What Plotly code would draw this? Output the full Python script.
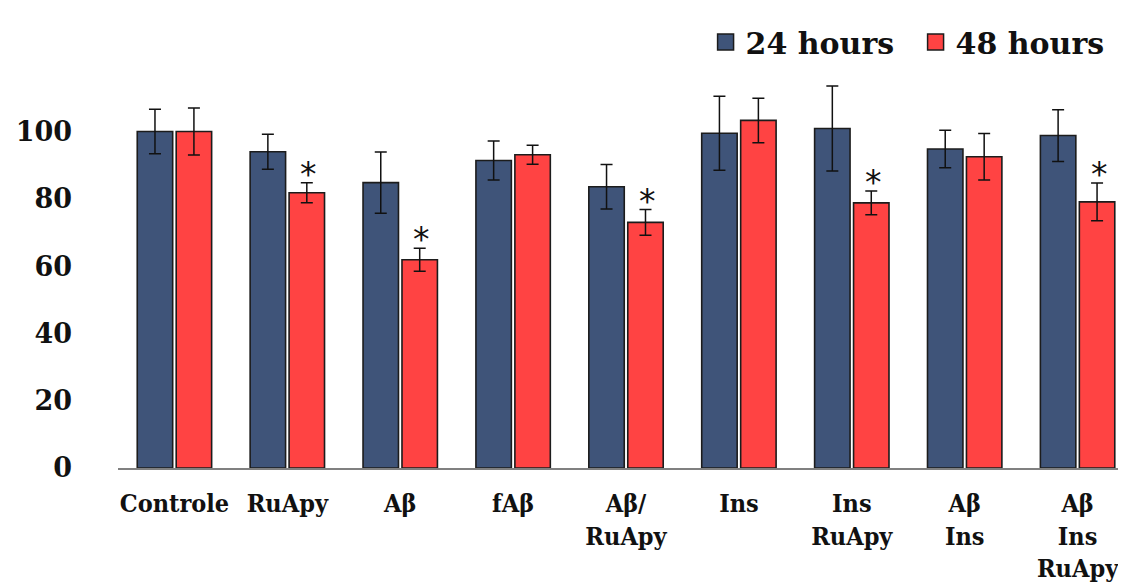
import plotly.graph_objects as go

categories = ["Controle", "RuApy", "Aβ", "fAβ", "Aβ/<br>RuApy", "Ins", "Ins<br>RuApy", "Aβ<br>Ins", "Aβ<br>Ins<br>RuApy"]
h24 = [100.0, 94.0, 84.8, 91.4, 83.6, 99.5, 100.9, 94.8, 98.8]
h24_err = [6.6, 5.2, 9.1, 5.8, 6.6, 11.0, 12.6, 5.6, 7.7]
h48 = [100.0, 81.8, 61.9, 93.1, 73.0, 103.3, 78.8, 92.5, 79.1]
h48_err = [7.0, 3.0, 3.4, 2.8, 3.8, 6.6, 3.5, 6.9, 5.6]
h48_sig = [False, True, True, False, True, False, True, False, True]
y_ticks = [0, 20, 40, 60, 80, 100]
series_names = ["24 hours", "48 hours"]

NAVY = "#3F5479"
RED = "#FF4343"
EDGE = "#1c1c1c"
SERIF = "DejaVu Serif"
SERIF_C = "DejaVu Serif Condensed, DejaVu Serif"

x = list(range(len(categories)))

fig = go.Figure()
for vals, errs, col in [(h24, h24_err, NAVY), (h48, h48_err, RED)]:
    fig.add_trace(go.Bar(
        x=x, y=vals,
        marker=dict(color=col, line=dict(color=EDGE, width=1.6)),
        error_y=dict(type="data", array=errs, color="#111111", thickness=1.5, width=6),
        showlegend=False,
    ))

# legend entries
for name, col in zip(series_names, [NAVY, RED]):
    fig.add_trace(go.Scatter(
        x=[None], y=[None], mode="markers", name=name,
        marker=dict(symbol="square", size=19, color=col, line=dict(color=EDGE, width=1.5)),
    ))

# significance stars
for i, (v, e, s) in enumerate(zip(h48, h48_err, h48_sig)):
    if s:
        fig.add_annotation(
            x=i + 0.19, y=v + e, text="*", showarrow=False,
            yanchor="bottom", yshift=-13,
            font=dict(family="DejaVu Sans", size=33, color="#111111"),
        )

fig.update_layout(
    width=1126, height=583,
    margin=dict(l=100, r=8, t=52, b=121),
    paper_bgcolor="white", plot_bgcolor="white",
    barmode="group", bargap=0.31, bargroupgap=0.09,
    showlegend=True,
    legend=dict(
        orientation="h", x=0.5835, xanchor="left", y=1.15, yanchor="top",
        font=dict(family=SERIF, size=30, color="#111111", weight="bold"),
        itemsizing="trace", entrywidth=165, entrywidthmode="pixels",
    ),
    xaxis=dict(
        tickmode="array", tickvals=x, ticktext=categories,
        range=[-0.5, 8.42],
        showline=True, linecolor="#808080", linewidth=2,
        showgrid=False, zeroline=False, ticks="",
        ticklabelstandoff=12,
        tickfont=dict(family=SERIF_C, size=25, color="#111111", weight="bold"),
    ),
    yaxis=dict(
        range=[0, 116.8],
        tickmode="array", tickvals=y_ticks,
        showline=False, showgrid=False, zeroline=False, ticks="",
        ticklabelstandoff=45,
        tickfont=dict(family=SERIF, size=27, color="#111111", weight="bold"),
    ),
)

fig.write_html("out.html")
